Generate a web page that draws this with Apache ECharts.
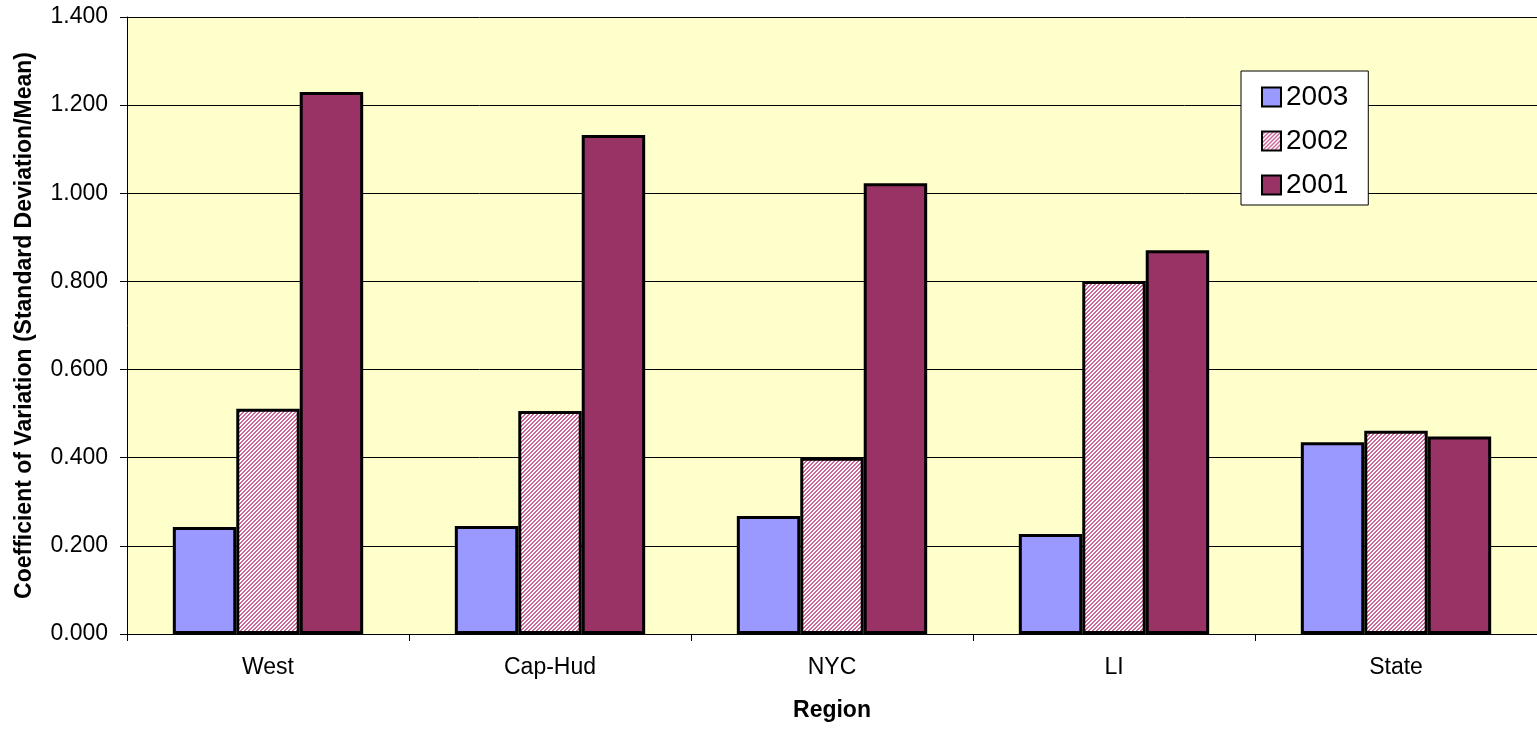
<!DOCTYPE html>
<html>
<head>
<meta charset="utf-8">
<script src="https://cdn.jsdelivr.net/npm/echarts@6/dist/echarts.min.js"></script>
<style>
  html, body { margin: 0; padding: 0; background: #ffffff; }
  #chart { width: 1537px; height: 729px; }
</style>
</head>
<body>
<div id="chart"></div>
<script>
// Coefficient of variation by region and year
const regions = ['West', 'Cap-Hud', 'NYC', 'LI', 'State'];
const years = ['2003', '2002', '2001'];
const cv2003 = [0.243, 0.245, 0.268, 0.227, 0.435];
const cv2002 = [0.511, 0.506, 0.400, 0.801, 0.461];
const cv2001 = [1.230, 1.132, 1.023, 0.871, 0.448];

const FONT = '"Liberation Sans", Arial, sans-serif';

// Fine diagonal pink hatch for the 2002 series
function hatchPattern() {
  const c = document.createElement('canvas');
  c.width = 4; c.height = 4;
  const ctx = c.getContext('2d');
  ctx.fillStyle = '#ffffff';
  ctx.fillRect(0, 0, 4, 4);
  ctx.fillStyle = '#cc6699';
  for (let y = 0; y < 4; y++) {
    for (let x = 0; x < 4; x++) {
      const k = (x + y) % 4;
      if (k === 2 || k === 3) ctx.fillRect(x, y, 1, 1);
    }
  }
  return { image: c, repeat: 'repeat' };
}

const fills = ['#9999ff', hatchPattern(), '#993366'];
const values = [cv2003, cv2002, cv2001];

const chart = echarts.init(document.getElementById('chart'), null, { renderer: 'canvas' });

chart.setOption({
  animation: false,
  backgroundColor: '#ffffff',
  grid: {
    left: 127, right: 0, top: 17, bottom: 95,
    show: true, backgroundColor: '#ffffcc', borderWidth: 0
  },
  legend: {
    orient: 'vertical',
    left: 1241, top: 71,
    padding: [12, 20, 6, 20],
    itemGap: 16,
    itemWidth: 19, itemHeight: 19,
    icon: 'rect',
    backgroundColor: '#ffffff',
    borderColor: '#000000', borderWidth: 1,
    textStyle: { fontFamily: FONT, fontSize: 28, lineHeight: 28, color: '#000000' },
    data: years
  },
  xAxis: {
    type: 'category',
    data: regions,
    name: 'Region',
    nameLocation: 'middle',
    nameGap: 65,
    nameTextStyle: { fontFamily: FONT, fontSize: 23, fontWeight: 'bold', color: '#000000' },
    axisLine: { lineStyle: { color: '#000000', width: 1 } },
    axisTick: { show: true, length: 7, lineStyle: { color: '#000000' } },
    axisLabel: { fontFamily: FONT, fontSize: 23, color: '#000000', margin: 22 }
  },
  yAxis: {
    type: 'value',
    min: 0, max: 1.4, interval: 0.2,
    name: 'Coefficient of Variation (Standard Deviation/Mean)',
    nameLocation: 'middle',
    nameGap: 91,
    nameTextStyle: { fontFamily: FONT, fontSize: 23, fontWeight: 'bold', color: '#000000' },
    axisLine: { show: true, lineStyle: { color: '#000000', width: 1 } },
    axisTick: { show: true, length: 7, lineStyle: { color: '#000000' } },
    axisLabel: {
      fontFamily: FONT, fontSize: 23, color: '#000000', margin: 19,
      formatter: v => v.toFixed(3)
    },
    splitLine: { show: true, lineStyle: { color: '#000000', width: 1 } }
  },
  series: years.map((y, i) => ({
    name: y,
    type: 'bar',
    data: values[i],
    barGap: '0%',
    barCategoryGap: '32.5%',
    itemStyle: { color: fills[i], borderColor: '#000000', borderWidth: 3 }
  }))
});
</script>
</body>
</html>
